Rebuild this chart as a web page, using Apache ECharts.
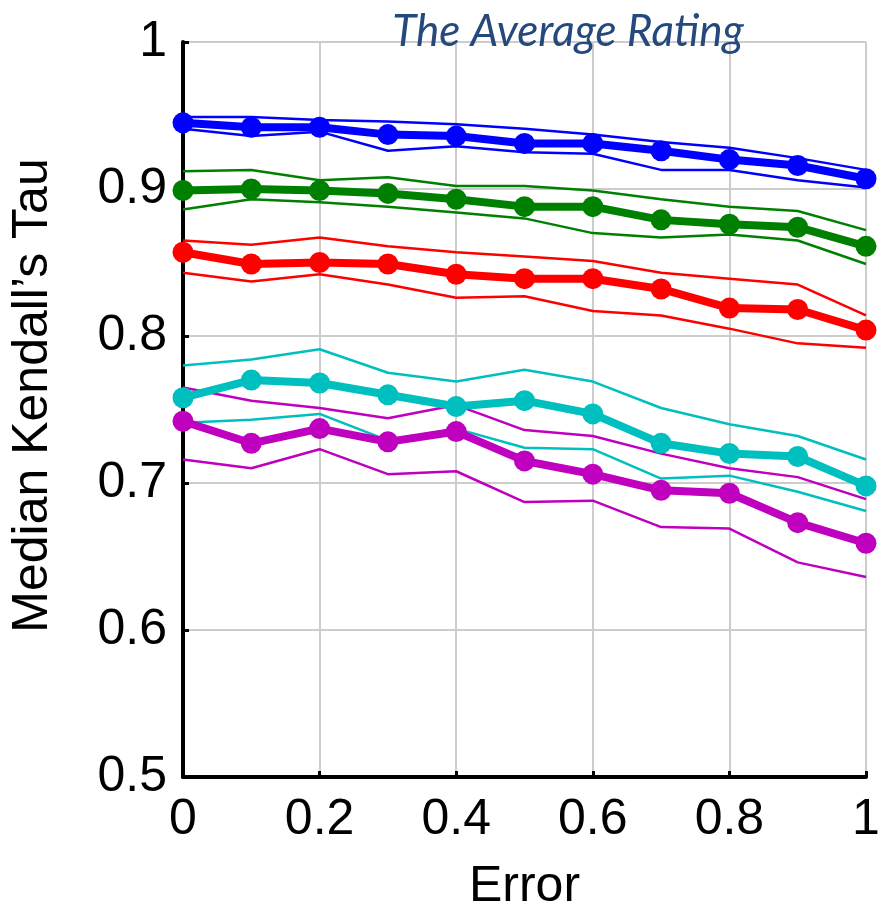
<!DOCTYPE html>
<html>
<head>
<meta charset="utf-8">
<script src="https://cdn.jsdelivr.net/npm/echarts@6/dist/echarts.min.js"></script>
<style>
  html, body { margin: 0; padding: 0; background: #fff; }
  #chart { width: 889px; height: 906px; }
</style>
</head>
<body>
<div id="chart"></div>
<script>
// error levels on the x axis
const errors = [0, 0.1, 0.2, 0.3, 0.4, 0.5, 0.6, 0.7, 0.8, 0.9, 1];

// median values (thick lines with dots) and their upper / lower bands (thin lines)
const blueMid   = [0.945, 0.942, 0.942, 0.937, 0.936, 0.931, 0.931, 0.926, 0.920, 0.916, 0.907];
const blueHigh  = [0.949, 0.949, 0.947, 0.946, 0.944, 0.941, 0.937, 0.932, 0.928, 0.921, 0.913];
const blueLow   = [0.941, 0.936, 0.939, 0.926, 0.929, 0.925, 0.924, 0.913, 0.913, 0.906, 0.901];

const greenMid  = [0.899, 0.900, 0.899, 0.897, 0.893, 0.888, 0.888, 0.879, 0.876, 0.874, 0.861];
const greenHigh = [0.912, 0.913, 0.906, 0.908, 0.902, 0.902, 0.899, 0.893, 0.888, 0.885, 0.872];
const greenLow  = [0.886, 0.893, 0.891, 0.888, 0.884, 0.880, 0.870, 0.867, 0.869, 0.865, 0.849];

const redMid    = [0.857, 0.849, 0.850, 0.849, 0.842, 0.839, 0.839, 0.832, 0.819, 0.818, 0.804];
const redHigh   = [0.865, 0.862, 0.867, 0.861, 0.857, 0.854, 0.851, 0.843, 0.839, 0.835, 0.814];
const redLow    = [0.843, 0.837, 0.842, 0.835, 0.826, 0.827, 0.817, 0.814, 0.805, 0.795, 0.792];

const cyanMid   = [0.758, 0.770, 0.768, 0.760, 0.752, 0.756, 0.747, 0.727, 0.720, 0.718, 0.698];
const cyanHigh  = [0.780, 0.784, 0.791, 0.775, 0.769, 0.777, 0.769, 0.751, 0.740, 0.732, 0.716];
const cyanLow   = [0.741, 0.743, 0.747, 0.729, 0.737, 0.724, 0.723, 0.703, 0.705, 0.694, 0.681];

const pinkMid   = [0.742, 0.727, 0.737, 0.728, 0.735, 0.715, 0.706, 0.695, 0.693, 0.673, 0.659];
const pinkHigh  = [0.765, 0.756, 0.751, 0.744, 0.753, 0.736, 0.732, 0.720, 0.710, 0.704, 0.689];
const pinkLow   = [0.716, 0.710, 0.723, 0.706, 0.708, 0.687, 0.688, 0.670, 0.669, 0.646, 0.636];

const yTicks = [0.5, 0.6, 0.7, 0.8, 0.9, 1];

const groups = [
  { color: '#0000ff', mid: blueMid, high: blueHigh, low: blueLow },
  { color: '#008000', mid: greenMid, high: greenHigh, low: greenLow },
  { color: '#ff0000', mid: redMid, high: redHigh, low: redLow },
  { color: '#00bfbf', mid: cyanMid, high: cyanHigh, low: cyanLow },
  { color: '#bf00bf', mid: pinkMid, high: pinkHigh, low: pinkLow },
];

const pairs = vals => vals.map((v, i) => [errors[i], v]);

function thin(color, vals) {
  return {
    type: 'line', data: pairs(vals), showSymbol: false, z: 2,
    lineStyle: { color, width: 2.5 }, silent: true,
  };
}

const series = [];
groups.forEach(g => {
  series.push(thin(g.color, g.high));
  series.push(thin(g.color, g.low));
});
groups.forEach(g => {
  series.push({
    type: 'line', data: pairs(g.mid), z: 3,
    symbol: 'circle', symbolSize: 21,
    itemStyle: { color: g.color },
    lineStyle: { color: g.color, width: 8 },
  });
});

const labelFont = { fontFamily: 'Liberation Sans', fontSize: 50, color: '#000' };

const chart = echarts.init(document.getElementById('chart'));
chart.setOption({
  animation: false,
  title: {
    text: 'The Average Rating',
    left: 563, top: 5, textAlign: 'center',
    textStyle: { fontFamily: 'Lato', fontStyle: 'italic', fontWeight: 'normal', fontSize: 44, color: '#25497c' },
  },
  grid: { left: 183, right: 23, top: 42, bottom: 129, outerBoundsMode: 'none', containLabel: false },
  xAxis: {
    type: 'value', min: 0, max: 1, interval: 0.2,
    name: 'Error', nameLocation: 'middle', nameGap: 85,
    nameTextStyle: labelFont,
    axisLine: { show: true, lineStyle: { color: '#000', width: 4 } },
    axisTick: { show: true, inside: true, length: 6, lineStyle: { color: '#000', width: 3 } },
    axisLabel: Object.assign({ margin: 18 }, labelFont),
    splitLine: { show: true, lineStyle: { color: '#cccccc', width: 2 } },
  },
  yAxis: {
    type: 'value', min: 0.5, max: 1, interval: 0.1,
    name: 'Median Kendall\u2019s Tau', nameLocation: 'middle', nameGap: 125, nameRotate: 90,
    nameTextStyle: Object.assign({ padding: [0, 0, 0, 28] }, labelFont),
    axisLine: { show: true, lineStyle: { color: '#000', width: 4 } },
    axisTick: { show: true, inside: true, length: 6, lineStyle: { color: '#000', width: 3 } },
    axisLabel: Object.assign({
      margin: 16,
      formatter: v => yTicks.includes(+v.toFixed(1)) ? String(+v.toFixed(1)) : ''
    }, labelFont),
    splitLine: { show: true, lineStyle: { color: '#cccccc', width: 2 } },
  },
  series,
});
</script>
</body>
</html>
